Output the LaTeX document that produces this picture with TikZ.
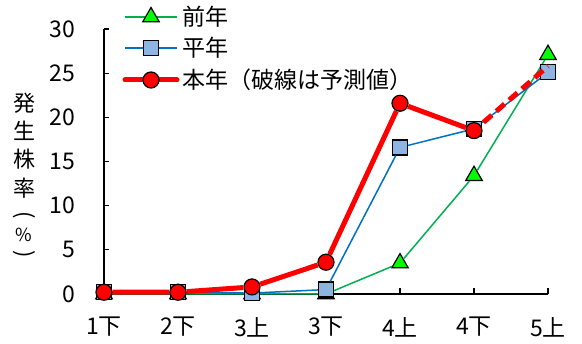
\documentclass[tikz,border=0pt]{standalone}
\usepackage{fontspec}
\setmainfont{Noto Sans CJK JP}
\usepackage{xcolor}
\usepackage{tikz}
\usetikzlibrary{shapes.geometric}
\definecolor{zenG}{HTML}{00B050}
\definecolor{heiB}{HTML}{0070C0}
\definecolor{heiFill}{HTML}{8EB4E3}

\begin{document}
\begin{tikzpicture}[x=1pt,y=1pt,
		tri/.style={regular polygon,regular polygon sides=3,draw=black,fill=green,line width=1.2pt,inner sep=0pt,minimum size=19pt},
		sq/.style={rectangle,draw=black,fill=heiFill,line width=1.2pt,inner sep=0pt,minimum size=15pt},
		dot/.style={circle,draw=black,fill=red,line width=1.2pt,inner sep=0pt,minimum size=16pt},
		lab/.style={font=\fontsize{23pt}{23pt}\selectfont,inner sep=0pt},
		ylab/.style={font=\fontsize{22pt}{22pt}\selectfont,inner sep=0pt}]
		\useasboundingbox (0,0) rectangle (582,344);
		% legend
		\coordinate (lgA) at (125,327);	\coordinate (lgB) at (177,327);
		\coordinate (lpA) at (125,296);	\coordinate (lpB) at (177,296);
		\coordinate (lhA) at (125,264);	\coordinate (lhB) at (177,264);
		\draw[zenG,line width=1.5pt] (lgA)--(lgB);
		\node[tri] (lgM) at (151,327) {};
		\draw[heiB,line width=1.5pt] (lpA)--(lpB);
		\node[sq] (lpM) at (151,296) {};
		\draw[red,line width=5pt,line cap=round] (lhA)--(lhB);
		\node[dot] (lhM) at (151,264) {};
		\node[lab,anchor=west] (lgT) at (182,327) {前年};
		\node[lab,anchor=west] (lpT) at (182,296) {平年};
		\node[lab,anchor=west] (lhT) at (182,264) {本年（破線は予測値）};
		% y label
		\foreach \c/\h in {発/241,生/213,株/185,率/156}
		\node[ylab] (yt\h) at (24,\h) {\c};
		\node[ylab,rotate=-90] (ytL) at (24,129) {(};
		\node[ylab,font=\fontsize{18pt}{18pt}\selectfont] (ytP) at (24,109) {\%};
		\node[ylab,rotate=-90] (ytR) at (24,90) {)};
		\begin{scope}[shift={(104,50)},x=74pt,y=8.83pt]
			% axes
			\draw[line width=1.3pt] (0,30)--(0,0)--(6,0);
			\foreach \v in {0,5,...,30}{
				\draw[line width=1.3pt] (0,\v)--++(5pt,0);
				\node[lab,anchor=east] (yl\v) at ([xshift=-29pt]0,\v) {\v};
			}
			\foreach \s [count=\i from 0] in {1下,2下,3上,3下,4上,4下,5上}{
				\ifnum\i>0 \draw[line width=1.3pt] (\i,0)--++(0,6pt); \fi
				\node[lab] (xl\i) at ([yshift=-33pt]\i,0) {\s};
			}
			% zennen
			\foreach \v [count=\i from 0] in {0,0,0,0,3.5,13.4,27.1}
			\node[tri] (g\i) at (\i,\v) {};
			\draw[zenG,line width=1.5pt] (g0)--(g1)--(g2)--(g3)--(g4)--(g5)--(g6);
			% heinen
			\foreach \v [count=\i from 0] in {0.2,0.2,0.1,0.5,16.6,18.7,25.1}
			\node[sq] (p\i) at (\i,\v) {};
			\draw[heiB,line width=1.5pt] (p0)--(p1)--(p2)--(p3)--(p4)--(p5)--(p6);
			% honnen
			\foreach \v [count=\i from 0] in {0.2,0.2,0.8,3.6,21.6,18.5}
			\node[dot] (h\i) at (\i,\v) {};
			\coordinate (h6) at (6,25.8);
			\draw[red,line width=5pt,line join=round] (h0)--(h1)--(h2)--(h3)--(h4)--(h5);
			\draw[red,line width=5pt,dash pattern=on 11pt off 6pt,dash phase=-4pt] (h5)--(h6);
		\end{scope}
	\end{tikzpicture}
\end{document}
